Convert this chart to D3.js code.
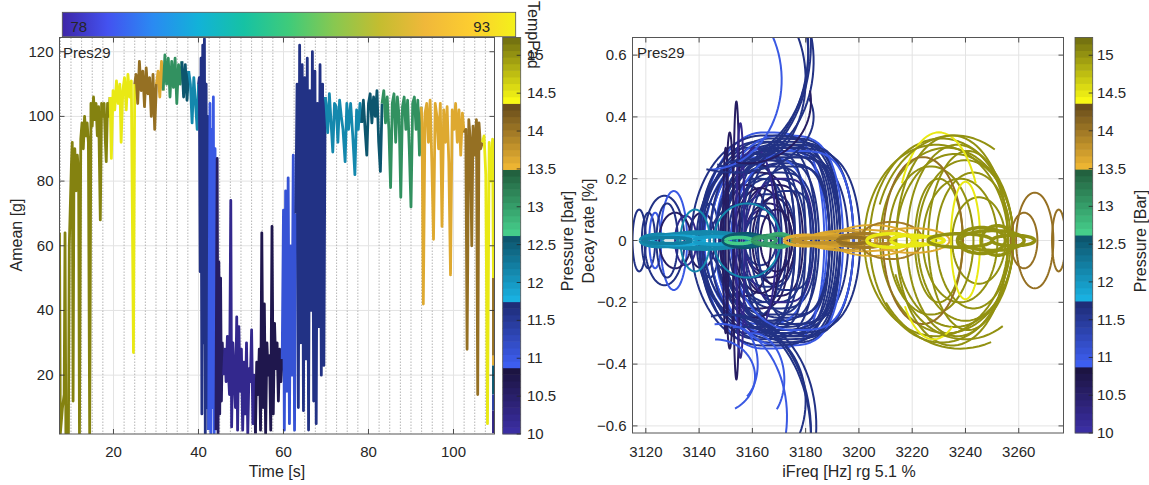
<!DOCTYPE html>
<html>
<head>
<meta charset="utf-8">
<script src="https://cdn.jsdelivr.net/npm/d3@7"></script>
<style>
  body { margin: 0; background: #fff; }
  text { font-family: "Liberation Sans", Arial, sans-serif; fill: #262626; }
</style>
</head>
<body>
<svg id="chart" width="1149" height="485"></svg>
<script>
// ---- data ----
// left plot: runs of [time s, Amean g], each run at one pressure (bar)
const ameanRuns = [
  [15.1, [[7.3,64],[7.5,2],[8.0,10],[8.4,14],[8.6,64],[8.8,2],[9.2,8],[9.4,2],[9.6,60],[9.8,70],[10.1,85],[10.3,92],[10.5,12],[10.7,86],[10.9,90],[11.2,77],[11.5,88],[11.8,82],[12.0,2],[12.3,93],[12.6,98],[12.9,90],[13.2,100],[13.5,94],[13.8,98],[14.1,92],[14.4,2],[14.7,104],[15.0,97],[15.3,106],[15.6,99],[15.9,104],[16.2,94],[16.5,103],[16.9,68],[17.2,104],[17.5,100],[17.8,104],[18.1,92],[18.3,86],[18.6,104],[18.9,100],[19.2,106]]],
  [14.5, [[19.5,87],[19.9,108],[20.3,102],[20.7,111],[21.1,104],[21.5,110],[21.8,92],[22.2,108],[22.6,112],[23.0,102],[23.4,113],[23.8,106],[24.2,111],[24.7,27],[25.0,110]]],
  [14.1, [[25.3,113],[25.7,104],[26.1,117],[26.5,108],[26.9,114],[27.3,103],[27.7,115],[28.1,107],[28.5,112],[28.9,100],[29.3,113],[29.7,96],[30.1,110]]],
  [13.6, [[30.5,114],[30.9,106],[31.3,117],[31.7,108]]],
  [13.1, [[32.1,119],[32.5,110],[32.9,118],[33.3,106],[33.7,117],[34.1,109],[34.5,118],[34.9,104],[35.3,116],[35.7,110],[36.1,117]]],
  [12.6, [[36.5,106],[36.9,116],[37.3,105],[37.7,114]]],
  [12.1, [[38.1,110],[38.5,98],[38.9,112],[39.3,104],[39.7,96],[40.0,110]]],
  [11.6, [[40.2,112],[40.4,52],[40.6,118],[40.8,8],[41.0,122],[41.2,30],[41.4,124],[41.6,2],[41.8,110],[42.0,10],[42.2,100],[42.4,3]]],
  [11.0, [[42.7,104],[42.9,2],[43.1,96],[43.3,10],[43.5,106],[43.7,2],[43.9,90],[44.1,3]]],
  [10.6, [[44.4,87],[44.6,2],[44.8,55],[45.0,8],[45.2,50],[45.4,12],[45.6,30],[45.9,20]]],
  [10.2, [[46.2,28],[46.5,18],[46.8,32],[47.0,22],[47.3,14],[47.6,74],[47.8,4],[48.1,30],[48.4,20],[48.7,10],[49.0,38],[49.2,3],[49.5,35],[49.8,15],[50.1,28],[50.4,3],[50.7,24],[51.0,8],[51.3,30],[51.6,2],[51.9,22],[52.2,18],[52.5,34],[52.8,5],[53.1,20],[53.4,2]]],
  [10.7, [[53.7,24],[54.0,14],[54.3,28],[54.6,3],[54.9,64],[55.2,10],[55.5,42],[55.8,2],[56.1,30],[56.4,20],[56.7,26],[57.0,3],[57.3,66],[57.6,8],[57.9,36],[58.2,22],[58.5,30],[58.8,12],[59.1,28],[59.4,18],[59.7,25]]],
  [11.1, [[60.0,71],[60.2,3],[60.5,77],[60.8,15],[61.1,81],[61.4,5],[61.7,60],[62.0,20],[62.3,88],[62.6,3],[62.9,70]]],
  [11.6, [[63.2,110],[63.5,10],[63.8,122],[64.1,30],[64.4,116],[64.7,9],[65.0,112],[65.3,25],[65.6,118],[65.9,3],[66.2,108],[66.5,40],[66.8,120],[67.1,12],[67.4,114],[67.7,5],[68.0,104],[68.3,35],[68.6,116],[68.9,20],[69.2,110],[69.5,23],[69.8,106]]],
  [12.1, [[70.0,104],[70.4,95],[70.8,107],[71.2,98],[71.6,89],[72.0,104],[72.4,103],[72.8,92],[73.2,105],[73.6,100],[74.0,96],[74.5,86],[74.9,104],[75.3,96],[75.8,104],[76.3,94],[76.8,82],[77.2,102],[77.6,96],[78.0,104],[78.4,98]]],
  [12.6, [[78.8,105],[79.2,96],[79.6,88],[80.0,104],[80.4,107],[80.8,98],[81.2,106],[81.6,100],[82.0,108],[82.4,92],[82.8,83],[83.2,104]]],
  [13.1, [[83.6,108],[84.0,98],[84.4,106],[84.8,96],[85.2,78],[85.6,104],[86.0,107],[86.4,92],[86.8,106],[87.2,100],[87.6,75],[88.0,103],[88.4,106],[88.8,96],[89.2,105],[89.6,90],[90.0,72],[90.4,104],[90.8,106],[91.2,96],[91.6,105],[92.0,88],[92.4,103]]],
  [13.6, [[92.6,98],[92.9,42],[93.3,101],[93.7,104],[94.1,92],[94.5,105],[94.9,86],[95.3,62],[95.7,104],[96.1,100],[96.5,90],[96.9,104],[97.3,66],[97.7,102],[98.1,92],[98.5,103],[98.9,86],[99.3,51],[99.7,102],[100.1,96],[100.5,104],[100.9,92],[101.3,102],[101.7,88],[102.1,101],[102.5,95]]],
  [14.1, [[102.9,96],[103.2,28],[103.6,99],[104.0,92],[104.3,60],[104.6,97],[105.0,88],[105.4,99],[105.7,14],[106.0,98],[106.4,90],[106.8,92]]],
  [14.5, [[107.2,94],[107.6,82],[108.0,5],[108.4,92],[108.8,80],[109.2,93],[109.4,50]]],
  [14.1, [[109.4,26]]],
  [13.6, [[109.4,23]]],
  [12.6, [[109.4,14]]],
  [11.4, [[109.4,9]]],
  [10.3, [[109.4,2]]]
];

// right plot: closed loops [centre freq Hz, half width Hz, half height %, pressure bar]
const decayLoops = [
  [3117.5,2.5,0.10,11.6],[3121,2.5,0.09,11.6],[3123.5,2.2,0.09,11.0],[3127,7.5,0.145,11.6],
  [3130.5,5,0.16,11.0],[3131,6,0.09,10.6],[3135,4,0.08,10.2],[3128,4,0.12,11.6],
  [3141,5,0.09,10.6],[3144,3.5,0.12,11.6],
  [3167,26,0.33,11.6],[3168,24,0.31,11.6],[3166,22,0.30,11.0],[3169,20,0.28,11.6],
  [3167,18,0.26,11.6],[3164,23,0.35,11.0],[3170,19,0.25,11.6],[3168,16,0.22,11.6],
  [3166,14,0.20,11.6],[3167,12,0.18,10.6],[3165,11,0.15,11.6],[3166,9,0.12,10.6],
  [3164,7,0.10,10.2],[3163,6,0.08,11.6],[3166,27,0.29,11.6],[3172,17,0.30,11.6],
  [3162,20,0.27,11.0],[3171,22,0.29,11.6],[3174,15,0.24,11.6],[3160,14,0.22,10.6],
  [3158,9,0.18,10.6],[3170,13,0.20,10.2],[3172,11,0.16,11.6],[3169,29,0.32,11.6],
  [3165,17,0.24,11.6],[3163,15,0.26,11.6],[3168,8,0.14,10.6],[3171,25,0.27,11.6],
  [3171,29.5,0.30,11.6],
  [3158,18,0.30,11.6],[3160,16,0.28,11.6],[3162,22,0.32,11.6],[3156,15,0.25,11.6],
  [3173,20,0.33,11.6],[3175,18,0.31,11.6],[3176,14,0.27,11.6],[3161,12,0.20,11.6],
  [3163,10,0.17,10.6],[3159,11,0.25,10.6],[3161,8,0.30,10.2],[3169,6,0.10,10.6],
  [3170,24,0.34,11.0],[3157,13,0.12,11.6],[3168,12,0.28,11.6],[3172,26,0.31,11.6],
  [3164,27,0.34,11.6],[3175,23,0.29,11.0],
  [3151.5,1.5,0.35,10.6],[3154,1.2,0.45,10.6],[3155.5,1.5,0.38,10.2],[3150,1,0.30,10.6],
  [3138.5,5.5,0.10,12.1],[3158,12.5,0.12,12.1],
  [3231,27,0.33,15.0],[3233,25,0.30,15.0],[3229,27,0.31,15.0],[3236,22,0.28,15.0],
  [3240,18,0.26,15.0],[3238,14,0.20,15.0],[3230,9,0.20,15.0],[3235,21,0.34,15.0],
  [3243,14,0.22,15.0],[3245,10,0.14,15.0],[3227,16,0.24,15.0],[3237,19,0.31,15.0],
  [3241,15,0.29,15.0],
  [3224,15,0.27,14.1],[3266,7,0.155,14.1],[3275,2.5,0.10,14.1],[3262,5,0.09,14.1],
  [3240,5.5,0.19,14.5],
  [3205,15,0.05,13.6],[3200,20,0.035,13.6],[3212,12,0.06,14.0],[3220,14,0.04,13.6],[3195,12,0.03,13.7]
];

// right plot: open arcs [centre freq, centre decay, half width, half height, from deg, to deg, pressure]
const decayArcs = [
  [3150,0.62,31,0.38,-95,20,11.6],[3152,0.64,30,0.40,-100,15,11.6],[3147,0.60,34,0.35,-85,25,11.6],
  [3156,0.58,27,0.32,-95,30,11.6],[3144,0.52,27,0.29,-90,45,11.0],[3160,0.52,20,0.27,-100,35,11.6],
  [3153,0.40,30,0.18,-110,20,11.6],[3158,0.45,24,0.2,-100,10,10.6],
  [3152,-0.62,30,0.38,95,-20,11.6],[3150,-0.64,32,0.40,100,-15,11.6],[3156,-0.60,28,0.35,90,-25,11.6],
  [3148,-0.57,25,0.30,95,-30,11.0],[3158,-0.52,22,0.24,100,-30,11.6],[3146,-0.44,15,0.12,90,-60,11.0],
  [3160,-0.45,12,0.15,95,-40,11.0],[3154,-0.40,8,0.12,100,-60,11.0],
  [3230,0.02,16,0.33,150,30,14.5],[3228,-0.02,14,0.30,220,300,14.5],
  [3236,0.0,30,0.34,160,60,15.0],[3240,0.0,28,0.32,200,300,15.0],[3238,0.0,34,0.35,215,290,15.0]
];

// right plot: the flat band of near-zero loops along decay = 0
const bandLoops = [
  [3125,7,0.02,12.1],[3135,15,0.022,12.1],[3142,16,0.028,12.1],[3150,10,0.02,12.1],[3132,10,0.014,11.9],
  [3128,9,0.01,12.2],[3146,8,0.012,12.0],
  [3157,8,0.022,12.6],[3159,6,0.016,12.5],[3155,5,0.01,12.7],
  [3168,8,0.017,13.1],[3170,5,0.022,12.9],[3165,4,0.01,13.0],
  [3180,8,0.017,13.6],[3188,8,0.02,13.6],[3195,9,0.016,13.7],[3202,10,0.022,14.0],[3207,6,0.012,13.9],
  [3185,10,0.008,13.8],[3198,6,0.01,14.1],
  [3212,9,0.022,14.5],[3220,8,0.017,14.5],[3226,6,0.012,14.5],
  [3238,12,0.022,15.0],[3246,9,0.042,15.0],[3250,12,0.032,15.0],[3252,6,0.048,15.0],[3258,8,0.017,15.0]
];

const timeTicks = [20, 40, 60, 80, 100];
const ameanTicks = [20, 40, 60, 80, 100, 120];
const freqTicks = [3120, 3140, 3160, 3180, 3200, 3220, 3240, 3260];
const decayTicks = [-0.6, -0.4, -0.2, 0, 0.2, 0.4, 0.6];
const presTicks = [10, 10.5, 11, 11.5, 12, 12.5, 13, 13.5, 14, 14.5, 15];
const tempRange = [78, 93];

// ---- colour maps ----
const presDomain = [10, 15.235];
const segColors = [
  ["#3a2ea2", "#1c1442"], ["#3d5ef0", "#1f2d78"], ["#19b0e0", "#0d566e"],
  ["#45cd8a", "#22613f"], ["#ecb432", "#6a4e1c"], ["#f8f814", "#757310"]
];
const segW = (presDomain[1] - presDomain[0]) / segColors.length;
const segSteps = 10;
function presColor(p) {
  let k = Math.floor((p - presDomain[0]) / segW);
  k = Math.max(0, Math.min(segColors.length - 1, k));
  let f = (p - presDomain[0] - k * segW) / segW;
  f = Math.max(0, Math.min(0.999, f));
  f = Math.floor(f * segSteps) / (segSteps - 1);
  return d3.interpolateRgb(segColors[k][0], segColors[k][1])(f);
}
const parula = ["#3e26a8", "#4352f0", "#2a8af2", "#12b2d8", "#16c2a4", "#3fcb7a",
                "#88c850", "#c4bd30", "#f0b83a", "#fccd30", "#f3f11a"];

const svg = d3.select("#chart");
const defs = svg.append("defs");

// ---- scales ----
const xL = d3.scaleLinear([7.3, 109.65], [59.5, 494.5]);
const yL = d3.scaleLinear([1.8, 124.4], [434, 37.5]);
const xR = d3.scaleLinear([3115, 3276.8], [632.5, 1063.5]);
const yR = d3.scaleLinear([-0.623, 0.657], [433, 37.5]);
const cbL = d3.scaleLinear(presDomain, [434, 37.5]);
const cbR = d3.scaleLinear(presDomain, [433, 37.5]);

function addClip(id, x, y) {
  defs.append("clipPath").attr("id", id).append("rect")
    .attr("x", x.range()[0]).attr("y", y.range()[1])
    .attr("width", x.range()[1] - x.range()[0])
    .attr("height", y.range()[0] - y.range()[1]);
}
addClip("clipL", xL, yL);
addClip("clipR", xR, yR);

function grid(g, x, y, xt, yt) {
  const [x0, x1] = x.range(), [yb, yt0] = y.range();
  g.append("g").selectAll("line").data(xt).join("line")
    .attr("x1", d => x(d)).attr("x2", d => x(d)).attr("y1", yt0).attr("y2", yb)
    .attr("stroke", "#e3e3e3").attr("stroke-width", 1);
  g.append("g").selectAll("line").data(yt).join("line")
    .attr("y1", d => y(d)).attr("y2", d => y(d)).attr("x1", x0).attr("x2", x1)
    .attr("stroke", "#e3e3e3").attr("stroke-width", 1);
}

function frame(g, x, y, xt, yt, yfmt) {
  const [x0, x1] = x.range(), [yb, yt0] = y.range();
  const tk = 5;
  const t = g.append("g").attr("stroke", "#262626").attr("stroke-width", 0.8);
  xt.forEach(d => {
    t.append("line").attr("x1", x(d)).attr("x2", x(d)).attr("y1", yb).attr("y2", yb - tk);
    t.append("line").attr("x1", x(d)).attr("x2", x(d)).attr("y1", yt0).attr("y2", yt0 + tk);
  });
  yt.forEach(d => {
    t.append("line").attr("y1", y(d)).attr("y2", y(d)).attr("x1", x0).attr("x2", x0 + tk);
    t.append("line").attr("y1", y(d)).attr("y2", y(d)).attr("x1", x1).attr("x2", x1 - tk);
  });
  g.append("rect").attr("x", x0).attr("y", yt0).attr("width", x1 - x0).attr("height", yb - yt0)
    .attr("fill", "none").attr("stroke", "#555").attr("stroke-width", 1);
  g.append("g").selectAll("text").data(xt).join("text")
    .attr("x", d => x(d)).attr("y", 457).attr("text-anchor", "middle")
    .attr("font-size", 15).text(d => d);
  g.append("g").selectAll("text").data(yt).join("text")
    .attr("x", x0 - 6).attr("y", d => y(d) + 5).attr("text-anchor", "end")
    .attr("font-size", 15).text(yfmt);
}

// ---- left plot ----
const gL = svg.append("g");
grid(gL, xL, yL, timeTicks, ameanTicks);
const minorT = d3.range(7.5, 109.6, 2.5).filter(v => timeTicks.indexOf(v) < 0);
gL.append("g").selectAll("line").data(minorT).join("line")
  .attr("x1", d => xL(d)).attr("x2", d => xL(d)).attr("y1", yL.range()[1]).attr("y2", yL.range()[0])
  .attr("stroke", "#b5b5b5").attr("stroke-width", 1).attr("stroke-dasharray", "1.5,1.5");

const lineL = d3.line().x(d => xL(d[0])).y(d => yL(d[1]));
const runPaths = ameanRuns.map((r, i) => {
  const prev = i > 0 ? ameanRuns[i - 1][1] : null;
  const pts = prev ? [prev[prev.length - 1]].concat(r[1]) : r[1];
  return { p: r[0], pts: pts };
});
gL.append("g").attr("clip-path", "url(#clipL)")
  .selectAll("path").data(runPaths).join("path")
  .attr("d", d => lineL(d.pts)).attr("fill", "none")
  .attr("stroke", d => presColor(d.p)).attr("stroke-width", 2.8)
  .attr("stroke-linejoin", "round");
frame(gL, xL, yL, timeTicks, ameanTicks, d => d);
gL.append("text").attr("x", 63).attr("y", 58).attr("font-size", 15).attr("fill", "#000").text("Pres29");
gL.append("text").attr("x", 277).attr("y", 477).attr("text-anchor", "middle").attr("font-size", 16).text("Time [s]");
gL.append("text").attr("transform", "translate(22,235) rotate(-90)").attr("text-anchor", "middle")
  .attr("font-size", 16).text("Amean [g]");

// ---- right plot ----
const gR = svg.append("g");
grid(gR, xR, yR, freqTicks, decayTicks);
// ellipse arc; e < 1 squares off the right-hand side (the blue loops are D-shaped)
function arcPts(cf, cd, rf, rd, a0, a1, e) {
  const n = Math.max(16, Math.ceil(Math.abs(a1 - a0) / 4));
  return d3.range(n + 1).map(i => {
    const a = (a0 + (a1 - a0) * i / n) * Math.PI / 180;
    const c = Math.cos(a);
    const cx = c > 0 ? Math.pow(c, e) : c;
    return [cf + rf * cx, cd + rd * Math.sin(a)];
  });
}
const lineR = d3.line().x(d => xR(d[0])).y(d => yR(d[1]));
const curves = []
  .concat(decayLoops.map(r => ({ p: r[3], w: 2,
    pts: arcPts(r[0], 0, r[1], r[2], 180, -180, (r[3] < 11.8 && r[1] > 10) ? 0.5 : 1) })))
  .concat(decayArcs.map(r => ({ p: r[6], w: 2, pts: arcPts(r[0], r[1], r[2], r[3], r[4], r[5], 1) })))
  .concat(bandLoops.map(r => ({ p: r[3], w: 3.5, pts: arcPts(r[0], 0, r[1], r[2], 180, -180, 1) })));
gR.append("g").attr("clip-path", "url(#clipR)")
  .selectAll("path").data(curves).join("path")
  .attr("d", d => lineR(d.pts)).attr("fill", "none")
  .attr("stroke", d => presColor(d.p)).attr("stroke-width", d => d.w)
  .attr("stroke-linejoin", "round");
frame(gR, xR, yR, freqTicks, decayTicks, d => d === 0 ? "0" : d3.format(".1f")(d));
gR.append("text").attr("x", 637).attr("y", 58).attr("font-size", 15).attr("fill", "#000").text("Pres29");
gR.append("text").attr("x", 849).attr("y", 477).attr("text-anchor", "middle").attr("font-size", 16)
  .text("iFreq [Hz] rg 5.1 %");
gR.append("text").attr("transform", "translate(594,231) rotate(-90)").attr("text-anchor", "middle")
  .attr("font-size", 16).text("Decay rate [%]");

// ---- pressure colourbars ----
function presBar(x0, w, sc, labelX, title, titleX) {
  const g = svg.append("g");
  const n = segColors.length * segSteps;
  const cells = d3.range(n).map(i => presDomain[0] + (i + 0.5) * (presDomain[1] - presDomain[0]) / n);
  const h = (sc.range()[0] - sc.range()[1]) / n;
  g.selectAll("rect.c").data(cells).join("rect").attr("class", "c")
    .attr("x", x0).attr("width", w)
    .attr("y", d => sc(d) - h / 2 - 0.3).attr("height", h + 0.6)
    .attr("fill", d => presColor(d));
  g.append("rect").attr("x", x0).attr("y", sc.range()[1]).attr("width", w)
    .attr("height", sc.range()[0] - sc.range()[1]).attr("fill", "none")
    .attr("stroke", "#555").attr("stroke-width", 0.8);
  g.selectAll("line").data(presTicks).join("line")
    .attr("x1", x0 + w - 4).attr("x2", x0 + w).attr("y1", d => sc(d)).attr("y2", d => sc(d))
    .attr("stroke", "#262626").attr("stroke-width", 0.8);
  g.selectAll("text.t").data(presTicks).join("text").attr("class", "t")
    .attr("x", labelX).attr("y", d => sc(d) + 5).attr("font-size", 15).text(d => d);
  g.append("text").attr("transform", `translate(${titleX},241) rotate(-90)`)
    .attr("text-anchor", "middle").attr("font-size", 16).text(title);
}
presBar(502.7, 18, cbL, 527, "Pressure [bar]", 573);
presBar(1075, 17.7, cbR, 1097, "Pressure [Bar]", 1146);

// ---- temperature colourbar on top ----
const grad = defs.append("linearGradient").attr("id", "parula");
grad.selectAll("stop").data(parula).join("stop")
  .attr("offset", (d, i) => i / (parula.length - 1)).attr("stop-color", d => d);
const xT = d3.scaleLinear(tempRange, [62.3, 515.7]);
svg.append("rect").attr("x", xT.range()[0]).attr("y", 12.3)
  .attr("width", xT.range()[1] - xT.range()[0]).attr("height", 24.4)
  .attr("fill", "url(#parula)").attr("stroke", "#555").attr("stroke-width", 0.8);
svg.append("text").attr("x", 70.5).attr("y", 31.5).attr("font-size", 15).attr("fill", "#000").text(tempRange[0]);
svg.append("text").attr("x", 490).attr("y", 31.5).attr("text-anchor", "end").attr("font-size", 15)
  .attr("fill", "#000").text(tempRange[1]);
svg.append("text").attr("transform", "translate(528,1) rotate(90)").attr("font-size", 16).text("TempPad");
</script>
</body>
</html>
